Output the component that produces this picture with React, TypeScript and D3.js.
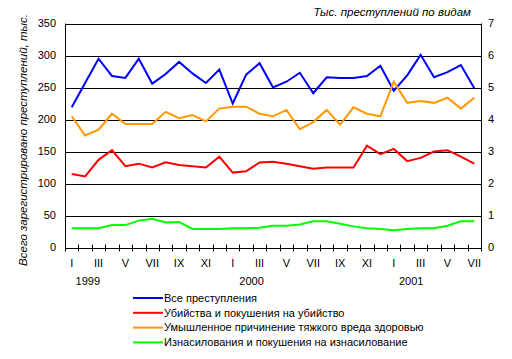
import React from "react";
import * as d3 from "d3";

const monthLabels = ["I", "", "III", "", "V", "", "VII", "", "IX", "", "XI", "",
  "I", "", "III", "", "V", "", "VII", "", "IX", "", "XI", "",
  "I", "", "III", "", "V", "", "VII"];
const years = [
  { label: "1999", idx: 1.2 },
  { label: "2000", idx: 13.4 },
  { label: "2001", idx: 25.3 },
];

const allCrimes = [219, 257, 295, 268, 265, 295, 256, 271, 290, 272, 257, 278, 225, 270, 288, 250, 259, 273, 241, 266, 265, 265, 268, 284, 245, 269, 301, 266, 274, 285, 249];
const murders = [115, 111, 137, 152, 127, 131, 125, 133, 129, 127, 125, 142, 117, 119, 133, 134, 131, 127, 123, 125, 125, 125, 159, 146, 154, 135, 140, 150, 152, 142, 131];
const injuries = [205, 175, 184, 209, 193, 193, 193, 212, 202, 207, 197, 217, 220, 220, 209, 205, 215, 185, 196, 215, 192, 219, 209, 205, 259, 226, 229, 226, 234, 217, 234];
const rapes = [30, 30, 30, 35, 35, 42, 45, 39, 40, 29, 29, 29, 30, 30, 31, 34, 34, 36, 41, 41, 37, 33, 30, 29, 27, 29, 30, 30, 34, 41, 41];

const leftTicks = [0, 50, 100, 150, 200, 250, 300, 350];
const rightTicks = [0, 1, 2, 3, 4, 5, 6, 7];

const seriesNames = [
  "Все преступления",
  "Убийства и покушения на убийство",
  "Умышленное причинение тяжкого вреда здоровью",
  "Изнасилования и покушения на изнасилование",
];
const seriesColors = ["#0000FF", "#FF0000", "#FF9900", "#00FF00"];
const seriesData = [allCrimes, murders, injuries, rapes];

export default function App() {
  const W = 512, H = 359;
  const left = 65, right = 481, top = 23.5, bottom = 247.5;
  const n = allCrimes.length;
  const x = d3.scaleBand<number>().domain(d3.range(n)).range([left, right]);
  const cx = (i: number) => (x(i) as number) + x.bandwidth() / 2;
  const y = d3.scaleLinear().domain([0, 350]).range([bottom, top]);
  const yr = d3.scaleLinear().domain([0, 7]).range([bottom, top]);
  const line = d3.line<number>().x((_, i) => cx(i)).y((d) => y(d));
  const font = "Arial, 'Liberation Sans', sans-serif";

  return (
    <svg width={W} height={H} style={{ position: "absolute", left: 0, top: 0, background: "#fff" }} fontFamily={font}>
      {/* gridlines */}
      {leftTicks.map((t) => (
        <line key={"g" + t} x1={left} x2={right} y1={Math.round(y(t)) + 0.5} y2={Math.round(y(t)) + 0.5} stroke="#000" strokeWidth={1} />
      ))}
      <line x1={left + 0.5} x2={left + 0.5} y1={top} y2={bottom} stroke="#000" />
      <line x1={right + 0.5} x2={right + 0.5} y1={top} y2={bottom} stroke="#000" />
      {/* x ticks at category boundaries */}
      {d3.range(n + 1).map((i) => {
        const xx = Math.round(left + i * x.step()) + 0.5;
        return <line key={"xt" + i} x1={xx} x2={xx} y1={bottom - 3} y2={bottom + 4} stroke="#000" />;
      })}
      {/* left labels */}
      {leftTicks.map((t) => (
        <text key={"l" + t} x={56} y={y(t)} dy="0.35em" textAnchor="end" fontSize={11}>{t}</text>
      ))}
      {rightTicks.map((t) => (
        <text key={"r" + t} x={488} y={yr(t)} dy="0.35em" textAnchor="start" fontSize={11}>{t}</text>
      ))}
      {monthLabels.map((m, i) => m ? (
        <text key={"m" + i} x={cx(i)} y={263} dy="0.35em" textAnchor="middle" fontSize={11}>{m}</text>
      ) : null)}
      {years.map((yy) => (
        <text key={yy.label} x={left + (yy.idx + 0.5) * x.step()} y={281} dy="0.35em" textAnchor="middle" fontSize={11}>{yy.label}</text>
      ))}
      {/* series */}
      {seriesData.map((d, k) => (
        <path key={"s" + k} d={line(d) as string} fill="none" stroke={seriesColors[k]} strokeWidth={2} strokeLinejoin="miter" />
      ))}
      {/* axis titles */}
      <text transform={`translate(23,140) rotate(-90)`} textAnchor="middle" dy="0.35em" fontSize={11.5} fontStyle="italic">
        Всего зарегистрировано преступлений, тыс.
      </text>
      <text x={471} y={16} textAnchor="end" fontSize={11.5} fontStyle="italic">Тыс. преступлений по видам</text>
      {/* legend */}
      {seriesNames.map((s, k) => {
        const ly = 298 + k * 14.8;
        return (
          <g key={"lg" + k}>
            <line x1={133} x2={163} y1={ly} y2={ly} stroke={seriesColors[k]} strokeWidth={2} />
            <text x={164} y={ly} dy="0.35em" fontSize={11}>{s}</text>
          </g>
        );
      })}
    </svg>
  );
}
